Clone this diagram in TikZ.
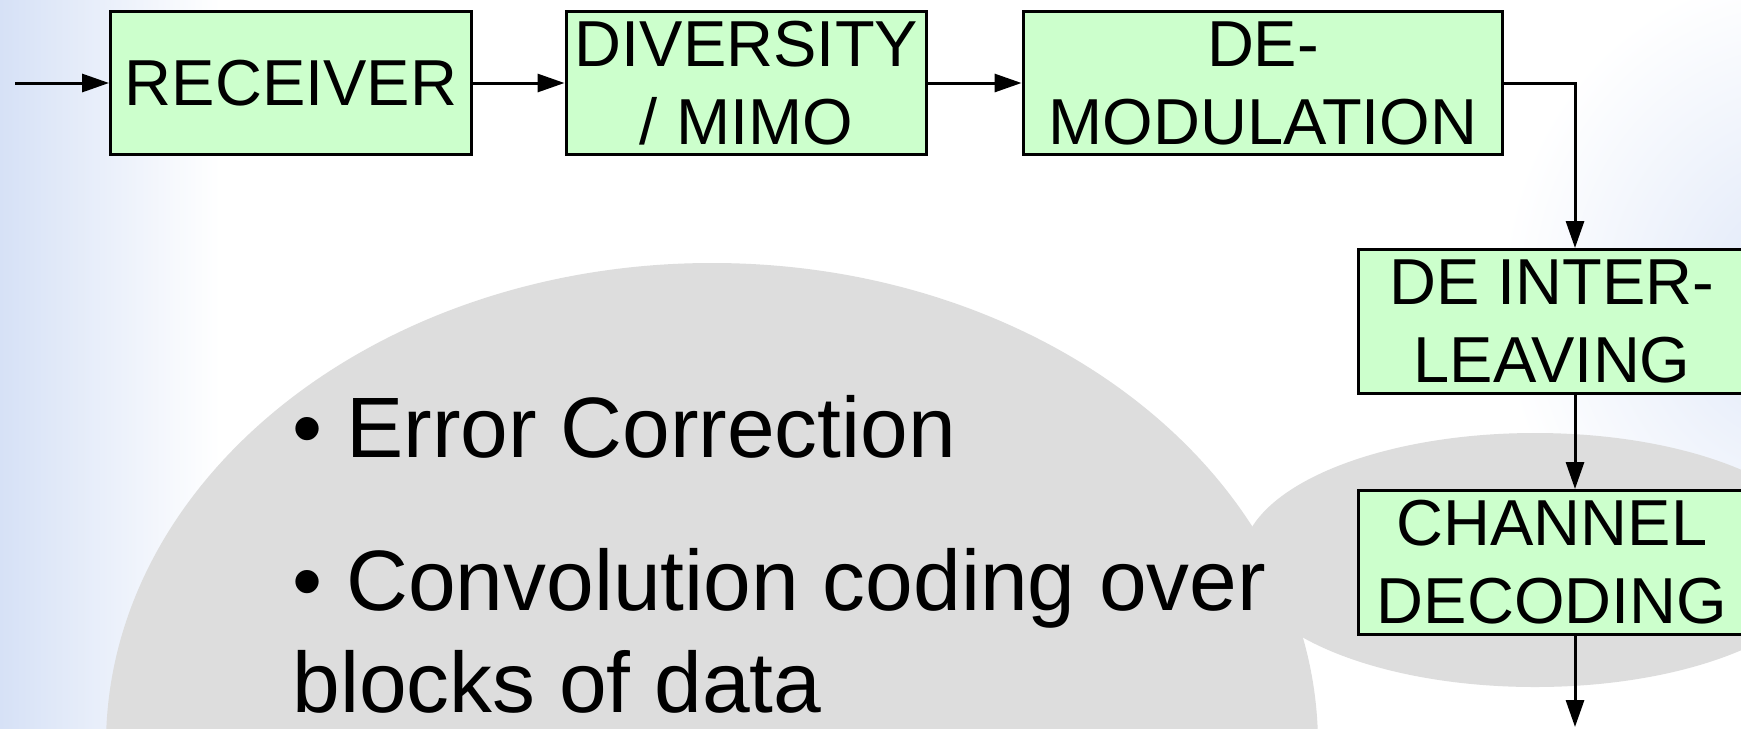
\documentclass[tikz,border=0pt]{standalone}
\usepackage{fontspec}
\setmainfont{Liberation Sans}
\usetikzlibrary{arrows.meta,positioning}
\definecolor{boxgreen}{RGB}{204,255,204}
\definecolor{bubblegray}{RGB}{221,221,221}
\definecolor{edgeblue}{RGB}{214,225,246}

\begin{document}
\begin{tikzpicture}[x=0.02cm,y=-0.02cm,>={Triangle[length=0.54cm,width=0.36cm]},line width=0.06cm,
  block/.style={draw,fill=boxgreen,inner sep=0pt,minimum height=2.88cm,align=center,font=\fontsize{37}{44.4}\selectfont},
  listtext/.style={inner sep=0pt,anchor=base west,align=left,font=\fontsize{48.8}{58}\selectfont}]
  \useasboundingbox (0,0) rectangle (1741,728);
  \clip (0,0) rectangle (1741,728);
  \fill[white] (0,0) rectangle (1741,728);
  \shade[left color=edgeblue,right color=white] (0,0) rectangle (220,728);
  \shade[inner color=edgeblue!80,outer color=white] (1800,300) ellipse [x radius=300,y radius=330];
  \fill[bubblegray] (712,745) ellipse [x radius=606,y radius=482];
  \fill[bubblegray] (1535,560) ellipse [x radius=293,y radius=127];
  \node[block,minimum width=7.22cm] (rx) at (291,83) {RECEIVER};
  \node[block,minimum width=7.22cm] (mimo) at (746.5,83) {DIVERSITY\\/ MIMO};
  \node[block,minimum width=9.6cm] (demod) at (1263,83) {DE-\\MODULATION};
  \node[block,minimum width=7.76cm] (deinter) at (1552,321.5) {DE INTER-\\LEAVING};
  \node[block,minimum width=7.76cm] (chdec) at (1552,562.5) {CHANNEL\\DECODING};
  \node[listtext] (errcorr) at (291,457) {• Error Correction};
  \node[listtext] (convcode) at (291,712) {• Convolution coding over\\blocks of data};
  \coordinate (in) at (15,83);
  \coordinate (out) at (1575,727);
  \draw[->] (in) -- (rx);
  \draw[->] (rx) -- (mimo);
  \draw[->] (mimo) -- (demod);
  \draw[->] (demod.east) -| (out |- deinter.north);
  \draw[->] (out |- deinter.south) -- (out |- chdec.north);
  \draw[->] (out |- chdec.south) -- (out);
\end{tikzpicture}
\end{document}
